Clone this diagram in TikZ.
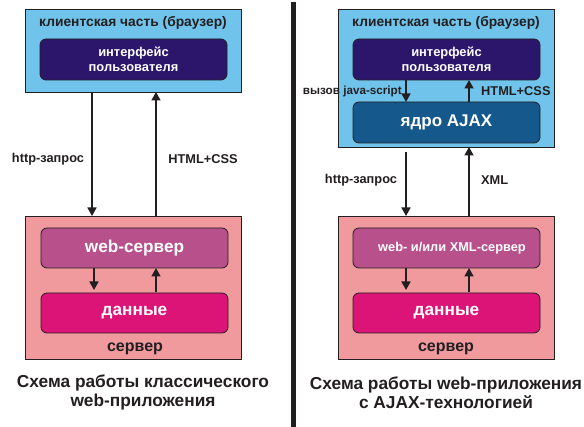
\documentclass[tikz,border=0pt]{standalone}
\usepackage{fontspec}
\setmainfont{Liberation Sans}
\usetikzlibrary{arrows.meta}
\definecolor{clientblue}{RGB}{112,196,236}
\definecolor{uinavy}{RGB}{43,22,108}
\definecolor{ajaxblue}{RGB}{20,88,140}
\definecolor{serverpink}{RGB}{240,154,158}
\definecolor{webmauve}{RGB}{184,80,140}
\definecolor{datamag}{RGB}{220,20,120}
\definecolor{darktext}{RGB}{35,31,32}
\tikzset{
  outerbox/.style={draw=darktext, line width=0.8pt, inner sep=0pt},
  innerbox/.style={draw=darktext, line width=0.8pt, rounded corners=6pt, inner sep=0pt, text=white, font=\bfseries, align=center},
  lbl/.style={font=\bfseries\fontsize{12.8}{15}\selectfont, text=darktext, inner sep=0pt},
  ttl/.style={font=\bfseries\fontsize{13.8}{16}\selectfont, text=darktext, inner sep=0pt},
  captxt/.style={font=\bfseries\fontsize{17.3}{19.5}\selectfont, text=darktext, align=center, inner sep=0pt},
  arr/.style={line width=1.7pt, draw=darktext, -{Triangle[length=8.5pt,width=9pt]}},
}
\begin{document}
\begin{tikzpicture}[x=1pt,y=-1pt]
\useasboundingbox (0,0) rectangle (584,427);
\fill[white] (0,0) rectangle (584,427);
% divider
\fill[darktext] (290.5,2) rectangle (295.5,427);

% ===== Left: classic =====
\node[outerbox, fill=clientblue, minimum width=216pt, minimum height=83pt] (Lc) at (133,50.5) {};
\node[ttl] (Lct) at (133,23) {клиентская часть (браузер)};
\node[innerbox, fill=uinavy, minimum width=187pt, minimum height=41pt, font=\bfseries\fontsize{12.9}{15.5}\selectfont] (Lui) at (133.5,59.5) {интерфейс\\пользователя};

\node[outerbox, fill=serverpink, minimum width=216pt, minimum height=143pt] (Ls) at (133,287.5) {};
\node[innerbox, fill=webmauve, minimum width=187pt, minimum height=40pt, font=\bfseries\fontsize{17.2}{20}\selectfont] (Lw) at (134.5,248) {web-сервер};
\node[innerbox, fill=datamag, minimum width=187pt, minimum height=40pt, font=\bfseries\fontsize{17.2}{20}\selectfont] (Ld) at (134.5,313) {данные};
\node[lbl, font=\bfseries\fontsize{16}{18}\selectfont] (Lst) at (135,349) {сервер};

\coordinate (La1) at (92,92);
\coordinate (La2) at (92,216);
\coordinate (Lb1) at (156,216);
\coordinate (Lb2) at (156,92);
\draw[arr] (La1) -- (La2);
\draw[arr] (Lb1) -- (Lb2);
\node[lbl] (Lhttp) at (48,159) {http-запрос};
\node[lbl] (Lhtml) at (203,159) {HTML+CSS};

\coordinate (Li1) at (94,268);
\coordinate (Li2) at (94,290);
\coordinate (Lj1) at (156,292);
\coordinate (Lj2) at (156,268);
\draw[arr] (Li1) -- (Li2);
\draw[arr] (Lj1) -- (Lj2);

\node[captxt] (Lcap) at (143,392.5) {Схема работы классического\\web-приложения};

% ===== Right: AJAX =====
\node[outerbox, fill=clientblue, minimum width=216pt, minimum height=138pt] (Rc) at (446,78) {};
\node[ttl] (Rct) at (446,23) {клиентская часть (браузер)};
\node[innerbox, fill=uinavy, minimum width=187pt, minimum height=41pt, font=\bfseries\fontsize{12.9}{15.5}\selectfont] (Rui) at (446.5,59.5) {интерфейс\\пользователя};
\node[innerbox, fill=ajaxblue, minimum width=187pt, minimum height=41pt, font=\bfseries\fontsize{17}{20}\selectfont] (Rk) at (446.5,122.5) {ядро AJAX};

\coordinate (Rk1) at (406,80);
\coordinate (Rk2) at (406,102);
\coordinate (Rl1) at (469,102);
\coordinate (Rl2) at (469,80);
\draw[arr] (Rk1) -- (Rk2);
\draw[arr] (Rl1) -- (Rl2);
\node[lbl, font=\bfseries\fontsize{11.7}{14}\selectfont, anchor=east] (Rjs) at (402,91) {вызов java-script};
\node[lbl, anchor=west] (Rhtml) at (481,91) {HTML+CSS};

\node[outerbox, fill=serverpink, minimum width=216pt, minimum height=143pt] (Rs) at (446,287.5) {};
\node[innerbox, fill=webmauve, minimum width=187pt, minimum height=40pt] (Rw) at (446.5,248) {};
\node[lbl, text=white, font=\bfseries\fontsize{12.8}{15}\selectfont] (Rwt) at (452,248) {web- и/или XML-сервер};
\node[innerbox, fill=datamag, minimum width=187pt, minimum height=40pt, font=\bfseries\fontsize{17.2}{20}\selectfont] (Rd) at (446.5,313) {данные};
\node[lbl, font=\bfseries\fontsize{16}{18}\selectfont] (Rst) at (446,349) {сервер};

\coordinate (Ra1) at (406,152);
\coordinate (Ra2) at (406,216);
\coordinate (Rb1) at (469,216);
\coordinate (Rb2) at (469,147);
\draw[arr] (Ra1) -- (Ra2);
\draw[arr] (Rb1) -- (Rb2);
\node[lbl] (Rhttp) at (361,180) {http-запрос};
\node[lbl, anchor=west] (Rxml) at (481,180) {XML};

\coordinate (Ri1) at (406,268);
\coordinate (Ri2) at (406,290);
\coordinate (Rj1) at (469,292);
\coordinate (Rj2) at (469,268);
\draw[arr] (Ri1) -- (Ri2);
\draw[arr] (Rj1) -- (Rj2);

\node[captxt] (Rcap) at (446,392.5) {Схема работы web-приложения\\с AJAX-технологией};
\end{tikzpicture}
\end{document}
